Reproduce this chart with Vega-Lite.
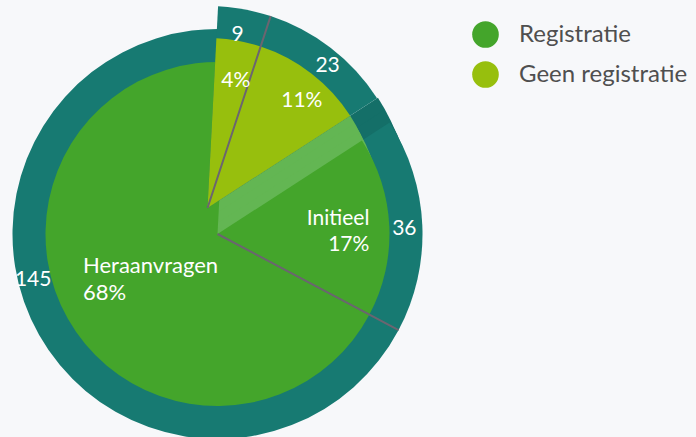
{
  "$schema": "https://vega.github.io/schema/vega-lite/v6.json",
  "width": 435,
  "height": 406,
  "autosize": {"type": "none"},
  "padding": {"left": 0, "top": 31, "right": 261, "bottom": 0},
  "background": "#f7f8fa",
  "config": {"view": {"stroke": null}, "font": "Lato"},
  "data": {"values": [
    {"idx": 1, "group": "Geen registratie", "cat": "Geen registratie A", "value": 9, "label": "4%"},
    {"idx": 2, "group": "Geen registratie", "cat": "Geen registratie B", "value": 23, "label": "11%"},
    {"idx": 3, "group": "Registratie", "cat": "Initieel", "value": 36, "label": "Initieel\n17%"},
    {"idx": 4, "group": "Registratie", "cat": "Heraanvragen", "value": 145, "label": "Heraanvragen\n68%"}
  ]},
  "transform": [{"stack": "value", "groupby": [], "sort": [{"field": "idx", "order": "ascending"}], "as": ["s0", "s1"]}],
  "layer": [
    {
      "transform": [{"filter": "datum.cat === 'Initieel'"}],
      "mark": {"type": "arc", "outerRadius": 203, "innerRadius": 0, "color": "#146f68", "xOffset": -10, "yOffset": -26},
      "encoding": {
        "theta": {"field": "s0", "type": "quantitative", "scale": {"domain": [0, 213], "range": [0.0524, 6.3356]}},
        "theta2": {"field": "s1"}
      }
    },
    {
      "transform": [{"filter": "datum.cat === 'Initieel'"}],
      "mark": {"type": "arc", "outerRadius": 204, "innerRadius": 0, "color": "#146f68", "xOffset": -5, "yOffset": -13},
      "encoding": {
        "theta": {"field": "s0", "type": "quantitative"},
        "theta2": {"field": "s1"}
      }
    },
    {
      "transform": [{"filter": "datum.group === 'Registratie'"}],
      "mark": {"type": "arc", "outerRadius": 205, "innerRadius": 0, "color": "#177a72"},
      "encoding": {
        "theta": {"field": "s0", "type": "quantitative"},
        "theta2": {"field": "s1"}
      }
    },
    {
      "mark": {"type": "arc", "outerRadius": 16, "innerRadius": 0, "color": "#63b653"},
      "encoding": {
        "theta": {"field": "s0", "type": "quantitative"},
        "theta2": {"field": "s1"}
      }
    },
    {
      "mark": {"type": "arc", "outerRadius": 16, "innerRadius": 0, "color": "#63b653", "xOffset": -5, "yOffset": -13},
      "encoding": {
        "theta": {"field": "s0", "type": "quantitative"},
        "theta2": {"field": "s1"}
      }
    },
    {
      "transform": [{"filter": "datum.cat === 'Initieel'"}],
      "mark": {"type": "arc", "outerRadius": 170, "innerRadius": 0, "color": "#63b653", "xOffset": -10, "yOffset": -26},
      "encoding": {
        "theta": {"field": "s0", "type": "quantitative"},
        "theta2": {"field": "s1"}
      }
    },
    {
      "transform": [{"filter": "datum.cat === 'Initieel'"}],
      "mark": {"type": "arc", "outerRadius": 171, "innerRadius": 0, "color": "#63b653", "xOffset": -6.7, "yOffset": -17.3},
      "encoding": {
        "theta": {"field": "s0", "type": "quantitative"},
        "theta2": {"field": "s1"}
      }
    },
    {
      "transform": [{"filter": "datum.cat === 'Initieel'"}],
      "mark": {"type": "arc", "outerRadius": 171, "innerRadius": 0, "color": "#63b653", "xOffset": -3.3, "yOffset": -8.7},
      "encoding": {
        "theta": {"field": "s0", "type": "quantitative"},
        "theta2": {"field": "s1"}
      }
    },
    {
      "transform": [{"filter": "datum.group === 'Registratie'"}],
      "mark": {"type": "arc", "outerRadius": 172, "innerRadius": 0},
      "encoding": {
        "theta": {"field": "s0", "type": "quantitative"},
        "theta2": {"field": "s1"},
        "color": {"field": "group", "type": "nominal",
          "scale": {"domain": ["Registratie", "Geen registratie"], "range": ["#44a52b", "#97bf0d"]},
          "legend": {"title": null, "orient": "none", "legendX": 472, "legendY": -10, "padding": 0, "symbolType": "circle", "symbolSize": 710, "symbolOpacity": 1, "symbolStrokeWidth": 0, "labelFontSize": 24, "labelColor": "#4f4f4f", "labelFont": "Lato", "labelLimit": 400, "rowPadding": 13, "labelOffset": 20}}
      }
    },
    {
      "transform": [{"filter": "datum.group === 'Geen registratie'"}],
      "mark": {"type": "arc", "outerRadius": 202, "innerRadius": 0, "color": "#177a72", "xOffset": -10, "yOffset": -26},
      "encoding": {
        "theta": {"field": "s0", "type": "quantitative"},
        "theta2": {"field": "s1"}
      }
    },
    {
      "transform": [{"filter": "datum.group === 'Geen registratie'"}],
      "mark": {"type": "arc", "outerRadius": 170, "innerRadius": 0, "xOffset": -10, "yOffset": -26},
      "encoding": {
        "theta": {"field": "s0", "type": "quantitative"},
        "theta2": {"field": "s1"},
        "color": {"field": "group", "type": "nominal",
          "scale": {"domain": ["Registratie", "Geen registratie"], "range": ["#44a52b", "#97bf0d"]},
          "legend": {"title": null, "orient": "none", "legendX": 472, "legendY": -10, "padding": 0, "symbolType": "circle", "symbolSize": 710, "symbolOpacity": 1, "symbolStrokeWidth": 0, "labelFontSize": 24, "labelColor": "#4f4f4f", "labelFont": "Lato", "labelLimit": 400, "rowPadding": 13, "labelOffset": 20}}
      }
    },
    {
      "transform": [{"filter": "datum.idx === 1"}],
      "mark": {"type": "arc", "outerRadius": 202, "innerRadius": 0, "filled": false, "stroke": "#6b6570", "strokeWidth": 2, "xOffset": -10, "yOffset": -26},
      "encoding": {
        "theta": {"field": "s1", "type": "quantitative"},
        "theta2": {"field": "s1"}
      }
    },
    {
      "transform": [{"filter": "datum.idx === 3"}],
      "mark": {"type": "arc", "outerRadius": 205, "innerRadius": 0, "filled": false, "stroke": "#6b6570", "strokeWidth": 2},
      "encoding": {
        "theta": {"field": "s1", "type": "quantitative"},
        "theta2": {"field": "s1"}
      }
    },
    {
      "mark": {"type": "text", "radius": 180, "fill": "white", "fontSize": 21, "align": "center", "baseline": "middle", "xOffset": -10, "yOffset": -26, "dx": -3, "dy": 4},
      "encoding": {
        "theta": {"field": "value", "type": "quantitative", "stack": true},
        "order": {"field": "idx", "type": "quantitative"},
        "text": {"condition": {"test": "datum.idx === 1", "field": "value", "type": "nominal"}, "value": ""}
      }
    },
    {
      "mark": {"type": "text", "radius": 186, "fill": "white", "fontSize": 21, "align": "center", "baseline": "middle", "xOffset": -10, "yOffset": -26, "dx": 6.5, "dy": 5},
      "encoding": {
        "theta": {"field": "value", "type": "quantitative", "stack": true},
        "order": {"field": "idx", "type": "quantitative"},
        "text": {"condition": {"test": "datum.idx === 2", "field": "value", "type": "nominal"}, "value": ""}
      }
    },
    {
      "mark": {"type": "text", "radius": 132, "fill": "white", "fontSize": 21, "align": "center", "baseline": "middle", "xOffset": -10, "yOffset": -26, "dx": 4, "dy": 3},
      "encoding": {
        "theta": {"field": "value", "type": "quantitative", "stack": true},
        "order": {"field": "idx", "type": "quantitative"},
        "text": {"condition": {"test": "datum.idx === 1", "field": "label", "type": "nominal"}, "value": ""}
      }
    },
    {
      "mark": {"type": "text", "radius": 143, "fill": "white", "fontSize": 21, "align": "center", "baseline": "middle", "xOffset": -10, "yOffset": -26, "dx": 7, "dy": 6},
      "encoding": {
        "theta": {"field": "value", "type": "quantitative", "stack": true},
        "order": {"field": "idx", "type": "quantitative"},
        "text": {"condition": {"test": "datum.idx === 2", "field": "label", "type": "nominal"}, "value": ""}
      }
    },
    {
      "mark": {"type": "text", "radius": 187, "fill": "white", "fontSize": 21, "align": "center", "baseline": "middle", "dy": 3},
      "encoding": {
        "theta": {"field": "value", "type": "quantitative", "stack": true},
        "order": {"field": "idx", "type": "quantitative"},
        "text": {"condition": {"test": "datum.cat === 'Initieel'", "field": "value", "type": "nominal"}, "value": ""}
      }
    },
    {
      "mark": {"type": "text", "radius": 190, "fill": "white", "fontSize": 21, "align": "center", "baseline": "middle", "dx": -19, "dy": -48},
      "encoding": {
        "theta": {"field": "value", "type": "quantitative", "stack": true},
        "order": {"field": "idx", "type": "quantitative"},
        "text": {"condition": {"test": "datum.cat === 'Heraanvragen'", "field": "value", "type": "nominal"}, "value": ""}
      }
    },
    {
      "mark": {"type": "text", "radius": 152, "fill": "white", "fontSize": 21, "align": "right", "baseline": "middle", "lineBreak": "\n", "lineHeight": 26, "dy": -8},
      "encoding": {
        "theta": {"field": "value", "type": "quantitative", "stack": true},
        "order": {"field": "idx", "type": "quantitative"},
        "text": {"condition": {"test": "datum.cat === 'Initieel'", "field": "label", "type": "nominal"}, "value": ""}
      }
    },
    {
      "mark": {"type": "text", "radius": 100, "fill": "white", "fontSize": 22, "align": "left", "baseline": "middle", "lineBreak": "\n", "lineHeight": 27, "dx": -47.5, "dy": -17},
      "encoding": {
        "theta": {"field": "value", "type": "quantitative", "stack": true},
        "order": {"field": "idx", "type": "quantitative"},
        "text": {"condition": {"test": "datum.cat === 'Heraanvragen'", "field": "label", "type": "nominal"}, "value": ""}
      }
    }
  ]
}
